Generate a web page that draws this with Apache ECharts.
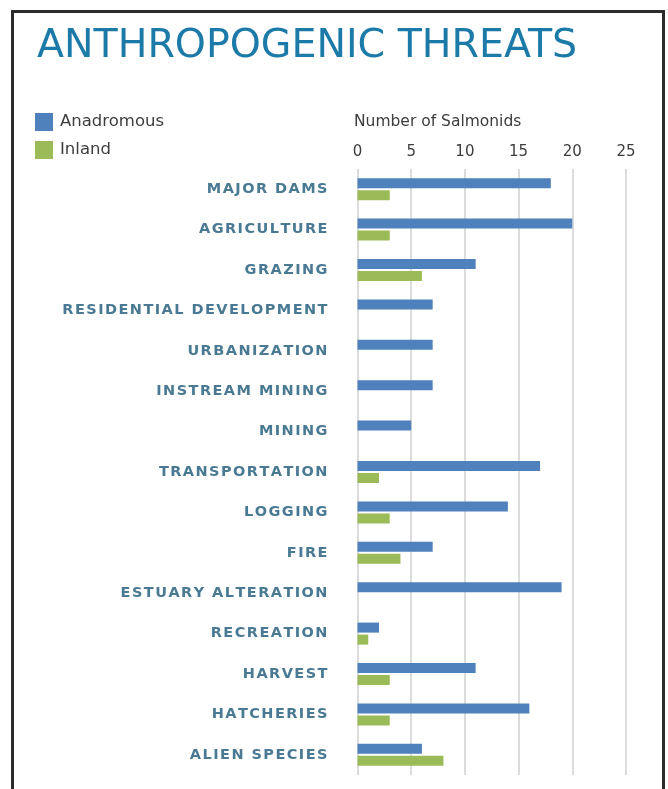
<!DOCTYPE html>
<html>
<head>
<meta charset="utf-8">
<style>
  html, body { margin: 0; padding: 0; background: #ffffff; }
  #chart { width: 668px; height: 789px; }
</style>
<script src="https://cdn.jsdelivr.net/npm/echarts@6/dist/echarts.min.js"></script>
</head>
<body>
<div id="chart"></div>
<script>
// Threat categories, top to bottom
const threats = [
  'MAJOR DAMS', 'AGRICULTURE', 'GRAZING', 'RESIDENTIAL DEVELOPMENT',
  'URBANIZATION', 'INSTREAM MINING', 'MINING', 'TRANSPORTATION',
  'LOGGING', 'FIRE', 'ESTUARY ALTERATION', 'RECREATION',
  'HARVEST', 'HATCHERIES', 'ALIEN SPECIES'
];

// Number of salmonids affected by each threat
const anadromous = [18, 20, 11, 7, 7, 7, 5, 17, 14, 7, 19, 2, 11, 16, 6];
const inland     = [3, 3, 6, 0, 0, 0, 0, 2, 3, 4, 0, 1, 3, 3, 8];

const axisTicks = [0, 5, 10, 15, 20, 25];

// spread capital letters apart with hair spaces
const spaced = s => s.split('').join('\u200A');

const chart = echarts.init(document.getElementById('chart'), null, { renderer: 'canvas' });

chart.setOption({
  backgroundColor: '#ffffff',
  animation: false,
  title: [
    {
      text: 'ANTHROPOGENIC THREATS',
      left: 32,
      top: 22,
      textStyle: {
        fontFamily: 'DejaVu Sans',
        fontSize: 39.5,
        fontWeight: 'normal',
        color: '#1c7aa9'
      }
    },
    {
      text: 'Number of Salmonids',
      left: 349,
      top: 109,
      textStyle: {
        fontFamily: 'DejaVu Sans',
        fontSize: 15.5,
        fontWeight: 'normal',
        color: '#3d3d3d'
      }
    }
  ],
  legend: {
    orient: 'vertical',
    left: 30,
    top: 108,
    itemWidth: 18,
    itemHeight: 18,
    itemGap: 10,
    icon: 'rect',
    textStyle: {
      fontFamily: 'DejaVu Sans',
      fontSize: 16.5,
      color: '#3d3d3d',
      padding: [0, 0, 0, 2]
    },
    data: ['Anadromous', 'Inland']
  },
  graphic: [
    {
      type: 'rect',
      shape: { x: 12.5, y: 11.5, width: 651, height: 800 },
      style: { fill: 'none', stroke: '#2b2b2b', lineWidth: 3 },
      silent: true,
      z: 100
    }
  ],
  grid: {
    left: 357.5,
    right: 42,
    top: 169,
    bottom: 14,
    containLabel: false
  },
  xAxis: {
    type: 'value',
    position: 'top',
    min: axisTicks[0],
    max: axisTicks[axisTicks.length - 1],
    interval: axisTicks[1] - axisTicks[0],
    axisLine: { show: false },
    axisTick: { show: false },
    axisLabel: {
      margin: 9,
      fontFamily: 'DejaVu Sans',
      fontSize: 15,
      color: '#3d3d3d'
    },
    splitLine: {
      show: true,
      lineStyle: { color: '#dcdcdc', width: 2 }
    }
  },
  yAxis: {
    type: 'category',
    inverse: true,
    data: threats,
    axisLine: { show: false },
    axisTick: { show: false },
    axisLabel: {
      margin: 30,
      fontFamily: 'DejaVu Sans',
      fontSize: 14.5,
      fontWeight: 'bold',
      color: '#4a7a93',
      formatter: v => spaced(v)
    }
  },
  series: [
    {
      name: 'Anadromous',
      type: 'bar',
      data: anadromous,
      barWidth: 10,
      barGap: '20%',
      itemStyle: { color: '#4f81bd' }
    },
    {
      name: 'Inland',
      type: 'bar',
      data: inland,
      barWidth: 10,
      barGap: '20%',
      itemStyle: { color: '#9bbb59' }
    }
  ]
});
</script>
</body>
</html>
